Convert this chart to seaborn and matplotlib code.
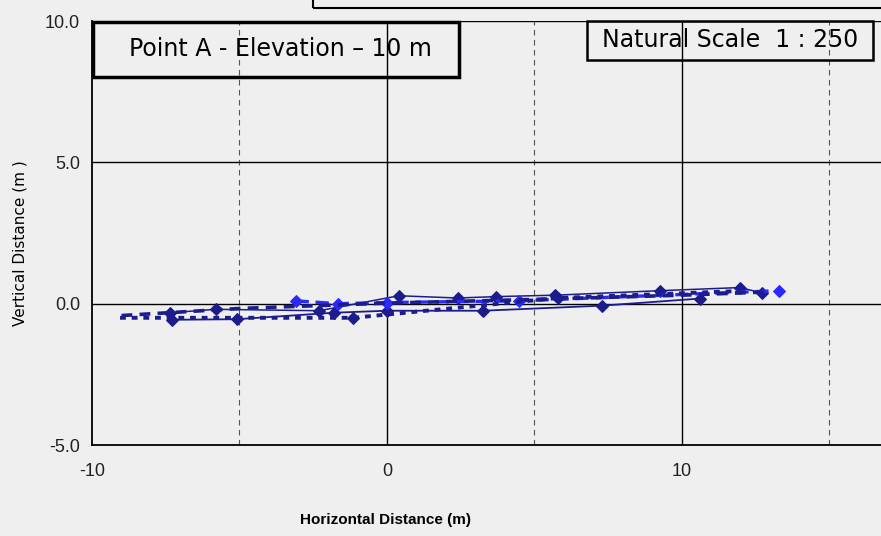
import matplotlib
matplotlib.use("Agg")
import matplotlib.pyplot as plt
from matplotlib.patches import Rectangle
from matplotlib.ticker import MultipleLocator, FormatStrFormatter
import seaborn as sns
import pandas as pd

# traverse shots (m)
run1_x = [-7.3, -5.1, -1.8, 0.0, 3.25, 7.3, 10.6]
run1_y = [-0.57, -0.55, -0.32, -0.25, -0.25, -0.07, 0.18]
run2_x = [-7.35, -5.8, -2.3, 0.4, 2.4, 3.7, 5.7, 9.25, 11.97, 12.7]
run2_y = [-0.32, -0.2, -0.25, 0.28, 0.2, 0.25, 0.3, 0.46, 0.57, 0.38]
run3_x = [-3.1, -1.66, 0.0, 4.47, 13.3]
run3_y = [0.1, 0.0, 0.04, 0.1, 0.46]
run4_x = [-9.05, -1.15, 5.8, 12.0]
run4_y = [-0.5, -0.5, 0.2, 0.45]
run5_x = [-9.0, -5.0, 0.0, 5.0, 10.0, 13.0]
run5_y = [-0.42, -0.17, 0.02, 0.15, 0.3, 0.42]

x_ticks = [-10, 0, 10]
y_ticks = [-5.0, 0.0, 5.0, 10.0]

title_text = "Point A - Elevation \u2013 10 m"
scale_text = "Natural Scale  1 : 250"

navy = "#1c1c8c"
blue = "#2a2aff"
bg = "#efefef"
narrow = ["Liberation Sans", "DejaVu Sans"]

sns.set_style("white")
plt.rcParams["font.family"] = ["DejaVu Sans"]
plt.rcParams["axes.unicode_minus"] = False
plt.rcParams["text.color"] = "black"

fig = plt.figure(figsize=(8.81, 5.36), dpi=100, facecolor=bg)
ax = fig.add_axes([92 / 881, 1 - 445 / 536, 789 / 881, 424 / 536])
ax.set_facecolor(bg)

runs = [
    (run1_x, run1_y, navy, "-", 1.3, "D", None),
    (run2_x, run2_y, navy, "-", 1.1, "D", None),
    (run3_x, run3_y, blue, (0, (4, 2)), 2.4, "D", None),
    (run4_x, run4_y, navy, (0, (1.5, 1.5)), 2.8, "D", [1, 2]),
    (run5_x, run5_y, navy, (0, (3, 2)), 2.6, None, None),
]
for xs, ys, c, ls, lw, mk, me in runs:
    df = pd.DataFrame({"x": xs, "y": ys})
    kw = dict(color=c, linestyle=ls, linewidth=lw, sort=False, estimator=None, ax=ax)
    if mk:
        kw.update(marker=mk, markersize=6, markeredgecolor=c, markerfacecolor=c)
        if me:
            kw["markevery"] = me
    sns.lineplot(data=df, x="x", y="y", **kw)

ax.set_xlim(-10, -10 + 789 / 29.5)
ax.set_ylim(-5, 10)
ax.set_xticks(x_ticks)
ax.set_yticks(y_ticks)
ax.yaxis.set_major_formatter(FormatStrFormatter("%.1f"))
ax.xaxis.set_minor_locator(MultipleLocator(5))

for v in [0, 10]:
    ax.axvline(v, color="black", lw=1.0, zorder=0)
for v in [-5, 5, 15]:
    ax.axvline(v, color="#555555", lw=0.8, ls=(0, (5, 4)), zorder=0)
for v in [0, 5, 10]:
    ax.axhline(v, color="black", lw=1.0, zorder=0)

for s in ["top", "right"]:
    ax.spines[s].set_visible(False)
for s in ["left", "bottom"]:
    ax.spines[s].set_color("black")
    ax.spines[s].set_linewidth(1.3)
ax.tick_params(axis="both", which="major", direction="out", length=5, width=1,
               colors="black", labelsize=13)
ax.tick_params(axis="x", pad=8)
ax.set_xlabel("")
ax.set_ylabel("")
for lab in ax.get_xticklabels() + ax.get_yticklabels():
    lab.set_family(narrow)
    lab.set_color("#222222")

fig.text(386 / 881, 1 - 520 / 536, "Horizontal Distance (m)", ha="center", va="center",
         fontsize=11, fontweight="bold", family=narrow)
fig.text(20 / 881, 1 - 243 / 536, "Vertical Distance (m )", rotation=90, ha="center",
         va="center", fontsize=11)

# annotation boxes
fig.patches.append(Rectangle((93 / 881, 1 - 77 / 536), 366 / 881, 55 / 536, fill=False,
                             lw=2.5, ec="black", transform=fig.transFigure))
fig.text(280 / 881, 1 - 49 / 536, title_text, ha="center", va="center", fontsize=17)
fig.patches.append(Rectangle((587 / 881, 1 - 60 / 536), 286 / 881, 39 / 536, fill=False,
                             lw=1.8, ec="black", transform=fig.transFigure))
fig.text(730 / 881, 1 - 40 / 536, scale_text, ha="center", va="center", fontsize=17)
fig.patches.append(Rectangle((313 / 881, 1 - 8 / 536), 0.8, 0.1, fill=False,
                             lw=1.5, ec="black", transform=fig.transFigure))

fig.savefig("out.png", dpi=100, facecolor=bg)
